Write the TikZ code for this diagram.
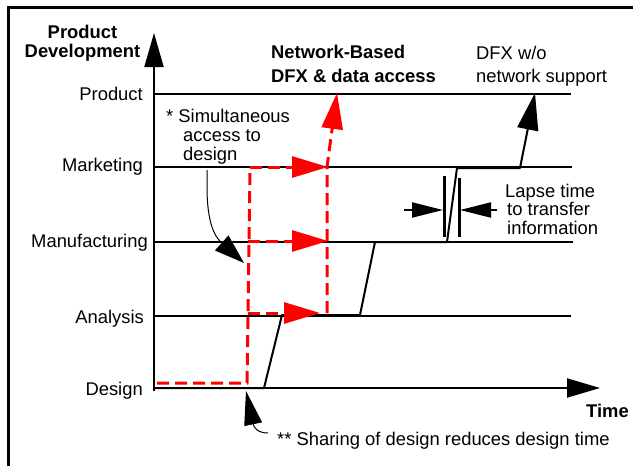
\documentclass[tikz,border=0pt]{standalone}
\usepackage{fontspec}
\setmainfont{Liberation Sans}
\usetikzlibrary{arrows.meta}
\begin{document}
\begin{tikzpicture}[x=1pt,y=-1pt,
  font=\fontsize{18.4}{19}\selectfont,
  txt/.style={inner sep=0pt},
  lbl/.style={inner sep=0pt, anchor=base east},
  frame/.style={line width=3pt},
  axis/.style={line width=2pt},
  level/.style={line width=2pt},
  stair/.style={line width=2pt, line join=round},
  netline/.style={red, line width=3pt, dash pattern=on 12pt off 6pt},
  netarrow/.style={netline, -{Triangle[length=36pt,width=21pt]}},
  note/.style={line width=1pt},
  bar/.style={line width=3pt}
]
\useasboundingbox (0,0) rectangle (633,466);

% outer frame (left and top edges)
\coordinate (fBL) at (8.5,466);
\coordinate (fTL) at (8.5,7.5);
\coordinate (fTR) at (633,7.5);
\draw[frame] (fBL) -- (fTL) -- (fTR);

% axes
\coordinate (yBot) at (154,391);
\coordinate (yTip) at (154,33);
\coordinate (xBeg) at (154,388);
\coordinate (xTip) at (600,388);
\draw[axis, -{Triangle[length=34pt,width=19pt]}] (yBot) -- (yTip);
\draw[axis, -{Triangle[length=33pt,width=19pt]}] (xBeg) -- (xTip);

% stage levels
\coordinate (P0) at (154,94);  \coordinate (P1) at (571,94);
\coordinate (M0) at (154,167); \coordinate (M1) at (572,167);
\coordinate (F0) at (154,242); \coordinate (F1) at (573,242);
\coordinate (A0) at (154,316); \coordinate (A1) at (571,316);
\draw[level] (P0) -- (P1);
\draw[level] (M0) -- (M1);
\draw[level] (F0) -- (F1);
\draw[level] (A0) -- (A1);

% stage labels
\node[lbl] (lProduct) at (143,100) {Product};
\node[lbl] (lMarketing) at (143,171) {Marketing};
\node[lbl] (lManufacturing) at (148,247) {Manufacturing};
\node[lbl] (lAnalysis) at (144,323) {Analysis};
\node[lbl] (lDesign) at (143,395) {Design};

% axis titles
\node[txt, anchor=north, align=center, font=\fontsize{18.4}{19}\bfseries\selectfont]
  (yTitle) at (82.5,24.6) {Product\\Development};
\node[txt, anchor=base west, font=\fontsize{18.4}{19}\bfseries\selectfont]
  (xTitle) at (586,417) {Time};

% sequential process without network support
\coordinate (s0) at (154,388);
\coordinate (s1) at (264,388);
\coordinate (s2) at (282,315);
\coordinate (s3) at (360,315);
\coordinate (s4) at (375,242);
\coordinate (s5) at (447,242);
\coordinate (s6) at (457,168);
\coordinate (s7) at (520,168);
\coordinate (s8) at (535,93);
\draw[stair, -{Triangle[length=37pt,width=21pt]}]
  (s0) -- (s1) -- (s2) -- (s3) -- (s4) -- (s5) -- (s6) -- (s7) -- (s8);

% network-based concurrent process
\coordinate (r0) at (157,383);
\coordinate (r1) at (247,383);
\coordinate (r2) at (250,167);
\coordinate (rM) at (328,167);
\coordinate (rF0) at (248,241);
\coordinate (rF1) at (328,241);
\coordinate (rA0) at (248,313);
\coordinate (rA1) at (320,313);
\coordinate (rU0) at (327,313);
\coordinate (rU1) at (327,167);
\coordinate (rU2) at (337,93);
\draw[netline] (r0) -- (r1) -- (r2);
\draw[netarrow] (r2) -- (rM);
\draw[netarrow] (rF0) -- (rF1);
\draw[netarrow] (rA0) -- (rA1);
\draw[netarrow] (rU0) -- (rU1) -- (rU2);

% headings
\node[txt, anchor=north west, align=left, font=\fontsize{18.4}{24}\bfseries\selectfont]
  (netHead) at (271,44.6) {Network-Based\\DFX \& data access};
\node[txt, anchor=north west, align=left, font=\fontsize{18.4}{23}\selectfont]
  (seqHead) at (476,45.6) {DFX w/o\\network support};

% simultaneous access note
\node[txt, anchor=north west, align=left] (simNote) at (166,108.6)
  {* Simultaneous\\\hspace*{17pt}access to\\\hspace*{17pt}design};
\coordinate (c0) at (207,170);
\coordinate (c1) at (207,186);
\coordinate (c2) at (244,263);
\draw[note, -{Triangle[length=30pt,width=20pt]}]
  (c0) -- (c1) .. controls (207,222) and (214,236) .. (c2);

% lapse time marker
\coordinate (b1t) at (444,176); \coordinate (b1b) at (444,237);
\coordinate (b2t) at (459,178); \coordinate (b2b) at (459,237);
\draw[bar] (b1t) -- (b1b);
\draw[bar] (b2t) -- (b2b);
\coordinate (la0) at (404,210); \coordinate (la1) at (443,210);
\coordinate (lb0) at (497,210); \coordinate (lb1) at (460,210);
\draw[axis, -{Triangle[length=31pt,width=15pt]}] (la0) -- (la1);
\draw[axis, -{Triangle[length=31pt,width=15pt]}] (lb0) -- (lb1);
\node[txt, anchor=north west, align=left, font=\fontsize{18.4}{18.5}\selectfont]
  (lapseNote) at (505,183.6) {Lapse time\\\hspace*{2pt}to transfer\\\hspace*{2pt}information};

% shared design note
\node[txt, anchor=base west] (shareNote) at (277,445)
  {** Sharing of design reduces design time};
\coordinate (d0) at (268,433);
\coordinate (d1) at (246,391);
\draw[note, -{Triangle[length=34pt,width=18pt]}]
  (d0) .. controls (258,433) and (254,428) .. (d1);
\end{tikzpicture}
\end{document}
